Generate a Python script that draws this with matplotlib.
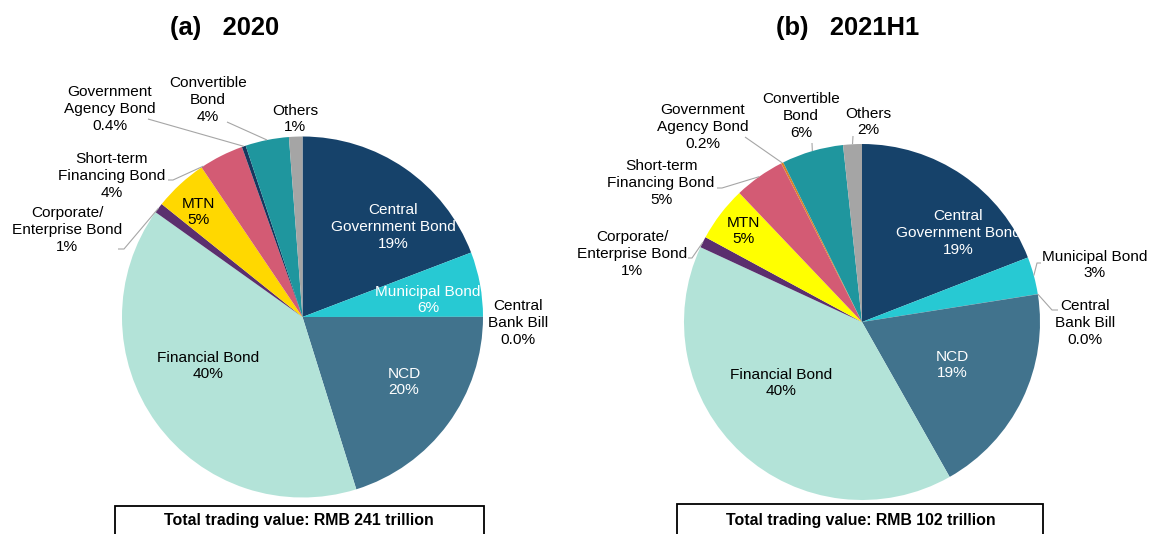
import numpy as np
import matplotlib.pyplot as plt
from matplotlib.patches import Rectangle

plt.rcParams['font.family'] = ['Liberation Sans', 'DejaVu Sans']

# 分类（顺时针，从12点方向开始）
categories = ['Central\nGovernment Bond', 'Municipal Bond', 'Central\nBank Bill', 'NCD',
              'Financial Bond', 'Corporate/\nEnterprise Bond', 'MTN',
              'Short-term\nFinancing Bond', 'Government\nAgency Bond',
              'Convertible\nBond', 'Others']

# 占比 (%)
share_2020 = [19.2, 5.8, 0.01, 20.2, 39.7, 0.9, 4.8, 4.0, 0.35, 3.9, 1.2]
share_2021h1 = [19.1, 3.4, 0.01, 19.3, 40.1, 1.0, 5.0, 4.6, 0.2, 5.6, 1.7]

# 图上显示的百分比
pct_2020 = ['19%', '6%', '0.0%', '20%', '40%', '1%', '5%', '4%', '0.4%', '4%', '1%']
pct_2021h1 = ['19%', '3%', '0.0%', '19%', '40%', '1%', '5%', '5%', '0.2%', '6%', '2%']

titles = ['(a)   2020', '(b)   2021H1']
totals = ['Total trading value: RMB 241 trillion', 'Total trading value: RMB 102 trillion']

colors_2020 = ['#16426A', '#27C9D3', '#7F7F7F', '#41738D', '#B3E3D8', '#5B2F6E',
               '#FFD800', '#D35B74', '#16375E', '#1F969E', '#A5A5A5']
colors_2021h1 = ['#16426A', '#27C9D3', '#7F7F7F', '#41738D', '#B3E3D8', '#5B2F6E',
                 '#FFFF00', '#D35B74', '#D9822B', '#1F969E', '#A5A5A5']

W, H = 1150, 534

# 布局（像素坐标，y向下）
layout = [
    dict(center=(302.5, 317), r=180.5, title=(225, 28),
         box=(115, 506, 484), box_txt=(299, 521),
         lbl=[(393, 227), (428, 300), (518, 323), (404, 382), (208, 366), (67, 230),
              (198, 212), (112, 176), (110, 109), (208, 100), (295, 119)],
         white=[0, 1, 3],
         lines={5: ([(118, 249), (124, 249)], 0.5), 7: ([(168, 180), (173, 180)], 0.05),
                8: ([(148, 119)], 0.5), 9: ([(227, 122)], 0.5)}),
    dict(center=(862, 322), r=178, title=(848, 28),
         box=(677, 504, 1043), box_txt=(861, 520),
         lbl=[(958, 233), (1095, 265), (1085, 323), (952, 365), (781, 383), (632, 254),
              (743, 231), (661, 183), (703, 127), (801, 116), (868, 122)],
         white=[0, 3],
         lines={1: ([(1041, 263), (1037, 263)], 0.5), 2: ([(1058, 310), (1052, 310)], 0.0),
                5: ([(688, 258), (692, 258)], 0.5), 7: ([(717, 188), (722, 188)], 0.5),
                8: ([(745, 137)], 0.5), 9: ([(812, 143)], 0.5), 10: ([(853, 136)], 0.5)}),
]

fig = plt.figure(figsize=(W / 100, H / 100), dpi=100)
ax = fig.add_axes([0, 0, 1, 1])

for k, (vals, pcts, cols) in enumerate([(share_2020, pct_2020, colors_2020),
                                         (share_2021h1, pct_2021h1, colors_2021h1)]):
    L = layout[k]
    cx, cy = L['center'][0], H - L['center'][1]
    r = L['r']
    wedges, _ = ax.pie(vals, colors=cols, startangle=90, counterclock=False,
                       center=(cx, cy), radius=r, wedgeprops=dict(linewidth=0))

    # 标签
    for i, (name, p) in enumerate(zip(categories, pcts)):
        x, y = L['lbl'][i]
        c = 'white' if i in L['white'] else 'black'
        ax.text(x, H - y, name + '\n' + p, ha='center', va='center', ma='center',
                fontsize=11.1, color=c, linespacing=1.27)

    # 引导线
    for i, (pts, f) in L['lines'].items():
        w = wedges[i]
        ang = np.deg2rad(w.theta2 - f * (w.theta2 - w.theta1))
        xs = [p[0] for p in pts] + [cx + r * np.cos(ang)]
        ys = [H - p[1] for p in pts] + [cy + r * np.sin(ang)]
        ax.plot(xs, ys, color='#A6A6A6', linewidth=0.8, solid_capstyle='butt')

    # 标题
    ax.text(L['title'][0], H - L['title'][1], titles[k], ha='center', va='center',
            fontsize=18.4, fontweight='bold')

    # 底部方框
    x0, top, x1 = L['box']
    ax.add_patch(Rectangle((x0, -20), x1 - x0, H - top + 20, fill=False,
                           edgecolor='black', linewidth=1.3))
    ax.text(L['box_txt'][0], H - L['box_txt'][1], totals[k], ha='center', va='center',
            fontsize=11.4, fontweight='bold')

ax.set_xlim(0, W)
ax.set_ylim(0, H)
ax.set_aspect('equal')
ax.axis('off')

plt.savefig('out.png', dpi=100)
